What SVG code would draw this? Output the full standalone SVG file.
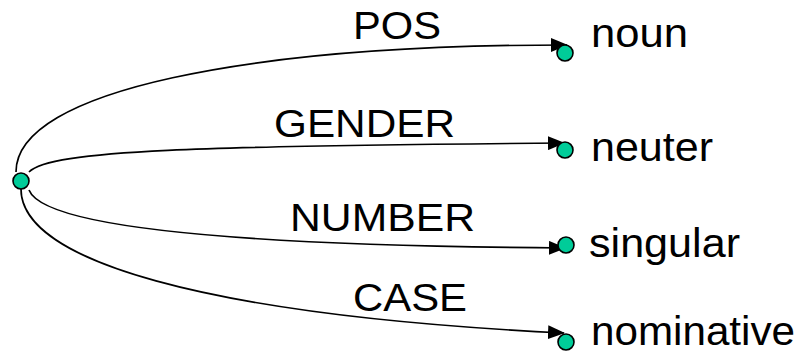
<svg xmlns="http://www.w3.org/2000/svg" width="803" height="354" viewBox="0 0 803 354">
  <style>
    .edge { fill: none; stroke: #000; stroke-width: 1.7; marker-end: url(#arrow); }
    .node { fill: #00CC99; stroke: #000; stroke-width: 1.6; }
    .elabel { font-family: "Liberation Sans", Arial, sans-serif; font-size: 38px; fill: #000; }
    .nlabel { font-family: "Liberation Sans", Arial, sans-serif; font-size: 41px; fill: #000; }
  </style>
  <defs>
    <marker id="arrow" markerUnits="userSpaceOnUse" markerWidth="18" markerHeight="14" refX="16" refY="7" orient="auto">
      <path d="M0,0 L17,7 L0,14 Z" fill="#000"/>
    </marker>
  </defs>
  <rect width="803" height="354" fill="#fff"/>

  <g id="connectors">
    <path class="edge" d="M16,172 C16,90 250,45 567,45"/>
    <path class="edge" d="M29,172 C50,150 200,146 564,143"/>
    <path class="edge" d="M29,190 C40,218 150,245 565,248"/>
    <path class="edge" d="M21,189 C21,260 200,315 564,333"/>
  </g>

  <g id="edge-labels">
    <text class="elabel" x="353" y="39" textLength="88" lengthAdjust="spacingAndGlyphs">POS</text>
    <text class="elabel" x="274" y="137" textLength="181" lengthAdjust="spacingAndGlyphs">GENDER</text>
    <text class="elabel" x="290" y="231" textLength="185" lengthAdjust="spacingAndGlyphs">NUMBER</text>
    <text class="elabel" x="353" y="311" textLength="114" lengthAdjust="spacingAndGlyphs">CASE</text>
  </g>

  <g id="root">
    <circle class="node" cx="21" cy="181" r="8"/>
  </g>
  <g id="noun">
    <circle class="node" cx="565" cy="53" r="8"/>
    <text class="nlabel" x="591" y="47" textLength="97" lengthAdjust="spacingAndGlyphs">noun</text>
  </g>
  <g id="neuter">
    <circle class="node" cx="565" cy="150" r="8"/>
    <text class="nlabel" x="591" y="161" textLength="122" lengthAdjust="spacingAndGlyphs">neuter</text>
  </g>
  <g id="singular">
    <circle class="node" cx="566" cy="245" r="8"/>
    <text class="nlabel" x="589" y="257" textLength="151" lengthAdjust="spacingAndGlyphs">singular</text>
  </g>
  <g id="nominative">
    <circle class="node" cx="566" cy="342" r="8"/>
    <text class="nlabel" x="591" y="345" font-size="40" textLength="204" lengthAdjust="spacingAndGlyphs">nominative</text>
  </g>
</svg>
